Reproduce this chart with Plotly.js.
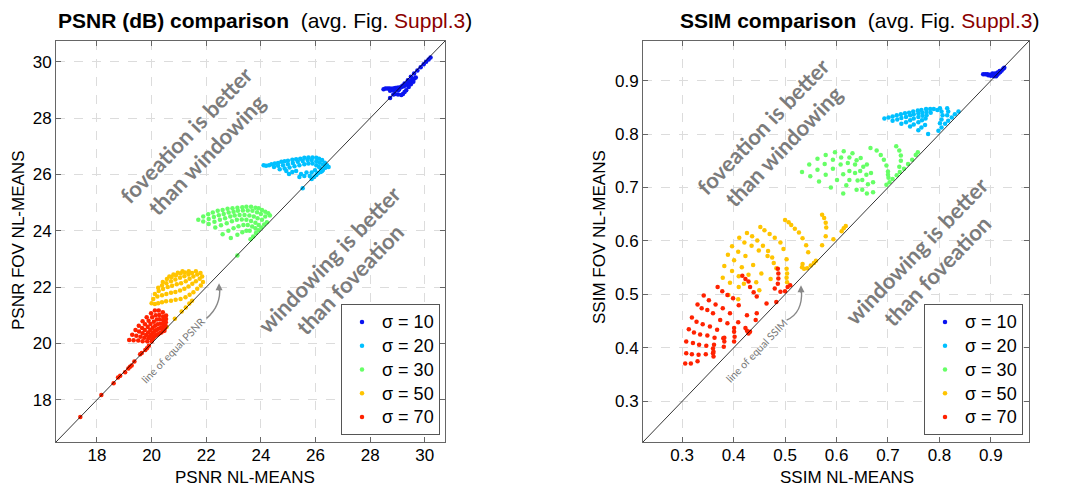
<!DOCTYPE html>
<html><head><meta charset="utf-8">
<script src="https://cdn.plot.ly/plotly-3.0.1.min.js"></script>
<style>html,body{margin:0;padding:0;background:#fff}</style>
</head><body>
<div id="chart" style="width:1083px;height:488px"></div>
<script>
// ---------- data ----------
const sigmaLabels = ['σ = 10', 'σ = 20', 'σ = 30', 'σ = 50', 'σ = 70'];
const sigmaColors = ['#0a14f0', '#00c0ff', '#66ff66', '#ffc400', '#ff2200'];
const psnrRange = [16.5, 30.74];
const ssimRange = [0.224, 0.974];
const psnrTicks = [18, 20, 22, 24, 26, 28, 30];
const ssimTicks = [0.3, 0.4, 0.5, 0.6, 0.7, 0.8, 0.9];

// PSNR (x: NL-means, y: FOV NL-means)
const psnr10 = [[28.49,29.03],[28.56,29.05],[28.64,29.05],[28.71,29.05],[28.78,29.04],[28.85,29.05],[28.92,29.07],[28.99,29.08],[29.06,29.09],[29.13,29.10],[29.20,29.12],[29.27,29.15],[29.34,29.20],[29.41,29.25],[29.48,29.31],[29.55,29.37],[29.62,29.41],[29.67,29.44],[28.73,28.97],[28.87,28.98],[29.02,28.99],[28.91,28.86],[29.02,28.84],[29.14,28.82],[29.20,28.86],[29.26,28.93],[29.32,28.99],[29.41,29.11],[29.49,29.20],[29.58,29.29],[28.73,28.72],[28.85,28.84],[29.06,29.02],[29.18,29.15],[29.26,29.23],[29.38,29.35],[29.49,29.47],[29.61,29.59],[29.73,29.69],[29.85,29.81],[29.96,29.91],[30.05,30.00],[30.14,30.08],[30.21,30.15]];
const psnr20 = [[24.10,26.33],[24.19,26.31],[24.30,26.33],[24.39,26.36],[24.51,26.39],[24.63,26.41],[24.75,26.45],[24.87,26.47],[24.99,26.49],[25.15,26.52],[25.29,26.54],[25.44,26.56],[25.59,26.59],[25.74,26.60],[25.89,26.60],[26.03,26.59],[26.13,26.56],[26.24,26.51],[26.34,26.42],[26.42,26.33],[26.48,26.27],
[24.48,26.27],[24.63,26.31],[24.81,26.33],[24.99,26.36],[25.17,26.41],[25.35,26.45],[25.53,26.48],[25.71,26.51],[25.86,26.51],[26.03,26.47],[26.15,26.42],[26.27,26.35],[26.36,26.27],
[24.69,26.19],[24.87,26.21],[25.05,26.25],[25.23,26.29],[25.41,26.33],[25.59,26.36],[25.74,26.39],[25.89,26.39],[26.03,26.33],[26.13,26.27],
[24.93,26.12],[25.15,26.09],[25.03,26.02],[25.29,26.12],[25.47,26.02],[25.41,25.91],[25.59,25.95],[25.67,26.07],[25.79,25.95],[25.86,26.07],[25.98,26.15],[26.07,26.04],[26.19,26.21],[26.24,26.12],
[25.86,25.84],[25.95,25.91],[26.03,25.98],[26.10,26.05],[26.19,26.09],[26.27,26.16],[26.36,26.24],[25.53,25.51]];
const psnr30 = [[21.71,24.39],[21.89,24.51],[22.07,24.59],[22.24,24.65],[22.42,24.71],[22.60,24.74],[22.78,24.78],[22.96,24.80],[23.14,24.82],[23.32,24.84],[23.47,24.85],[23.64,24.85],[23.80,24.82],[23.92,24.80],[24.04,24.74],[24.16,24.68],[24.27,24.62],[24.33,24.54],
[21.89,24.33],[22.09,24.42],[22.28,24.49],[22.46,24.55],[22.64,24.60],[22.82,24.65],[23.00,24.68],[23.16,24.71],[23.34,24.72],[23.52,24.72],[23.69,24.71],[23.86,24.66],[24.00,24.60],[24.16,24.51],
[22.09,24.24],[22.30,24.32],[22.50,24.39],[22.69,24.45],[22.88,24.51],[23.04,24.54],[23.22,24.56],[23.40,24.56],[23.58,24.54],[23.74,24.51],[23.88,24.45],[24.04,24.39],
[22.33,24.12],[22.54,24.20],[22.75,24.27],[22.94,24.34],[23.12,24.39],[23.30,24.40],[23.47,24.39],[23.64,24.35],[23.80,24.29],[23.92,24.21],
[22.60,23.88],[22.81,24.00],[23.00,24.09],[23.18,24.16],[23.36,24.21],[23.52,24.21],[23.68,24.15],[23.80,24.09],
[22.90,23.74],[23.14,23.86],[23.32,23.95],[23.47,24.00],[23.59,24.00],
[23.62,23.70],[23.72,23.80],[23.82,23.92],[23.92,24.02],[24.02,24.12],[24.12,24.22],[24.22,24.30],[23.14,23.12]];
const psnr50 = [[20.00,21.43],[20.12,21.40],[20.24,21.43],[20.38,21.46],[20.53,21.50],[20.71,21.52],[20.88,21.55],[21.06,21.58],[21.24,21.64],[21.39,21.73],[21.53,21.82],[21.67,21.94],[21.80,22.06],[21.88,22.18],
[20.06,21.58],[20.21,21.67],[20.38,21.71],[20.54,21.76],[20.71,21.80],[20.87,21.83],[21.04,21.88],[21.20,21.94],[21.35,22.02],[21.49,22.12],[21.62,22.21],[21.76,22.30],[21.85,22.38],
[20.12,21.76],[20.26,21.86],[20.42,21.93],[20.59,22.00],[20.75,22.05],[20.92,22.10],[21.08,22.14],[21.25,22.21],[21.39,22.30],[21.53,22.38],[21.67,22.45],[21.79,22.50],
[20.24,21.98],[20.38,22.06],[20.54,22.14],[20.71,22.21],[20.87,22.27],[21.04,22.33],[21.20,22.39],[21.35,22.45],[21.48,22.50],[21.62,22.56],
[20.41,22.18],[20.56,22.29],[20.73,22.36],[20.89,22.42],[21.06,22.48],[21.22,22.52],[21.36,22.56],
[20.65,22.38],[20.80,22.45],[20.96,22.51],[21.13,22.56],
[20.55,20.58],[20.85,20.88],[21.10,21.13],[21.25,21.28],[21.38,21.42],[21.48,21.52]];
const psnr70 = [[19.18,20.12],[19.34,20.11],[19.51,20.10],[19.67,20.08],[19.84,20.08],[20.00,20.07],
[19.29,20.31],[19.44,20.27],[19.59,20.24],[19.73,20.20],[19.88,20.18],[20.02,20.14],
[19.41,20.48],[19.54,20.42],[19.67,20.36],[19.80,20.30],[19.93,20.25],[20.06,20.19],
[19.53,20.63],[19.65,20.55],[19.75,20.48],[19.87,20.39],[19.98,20.32],[20.09,20.24],
[19.67,20.79],[19.76,20.68],[19.86,20.58],[19.95,20.48],[20.05,20.38],[20.14,20.27],
[19.82,20.93],[19.89,20.81],[19.96,20.69],[20.04,20.56],[20.11,20.44],[20.19,20.31],
[19.98,21.07],[20.02,20.93],[20.08,20.77],[20.13,20.63],[20.18,20.48],[20.24,20.33],
[20.12,21.17],[20.15,21.00],[20.19,20.85],[20.22,20.68],[20.26,20.52],[20.29,20.36],
[20.26,21.17],[20.28,21.01],[20.29,20.86],[20.32,20.70],[20.33,20.55],[20.35,20.39],
[20.41,21.11],[20.42,20.96],[20.42,20.83],[20.41,20.69],[20.41,20.56],[20.41,20.43],
[20.53,20.99],[20.53,20.87],[20.52,20.75],[20.51,20.63],[20.49,20.55],[20.47,20.45],
[17.39,17.39],[18.16,18.17],[18.61,18.59],[18.77,18.79],[18.85,18.85],[19.03,18.98],[19.15,19.11],[19.21,19.17],[19.27,19.22],[19.37,19.36],[19.58,19.62],[19.64,19.66],[19.77,19.77],[19.83,19.83],[19.90,19.92]];

// SSIM (x: NL-means, y: FOV NL-means)
const ssim10 = [[0.885,0.912],[0.889,0.912],[0.893,0.912],[0.897,0.911],[0.901,0.911],[0.905,0.911],[0.909,0.910],[0.912,0.911],[0.915,0.913],[0.918,0.916],[0.921,0.919],[0.924,0.922],[0.926,0.924],[0.906,0.908],[0.910,0.908],[0.900,0.909],[0.895,0.910],[0.913,0.915],[0.917,0.918],[0.903,0.913],[0.908,0.913]];
const ssim20 = [[0.693,0.829],[0.701,0.831],[0.709,0.833],[0.717,0.835],[0.725,0.837],[0.733,0.839],[0.741,0.840],[0.749,0.842],[0.758,0.844],[0.765,0.845],[0.774,0.847],[0.782,0.847],[0.789,0.847],[0.796,0.845],
[0.709,0.825],[0.718,0.827],[0.726,0.830],[0.735,0.832],[0.743,0.835],[0.750,0.837],[0.759,0.839],[0.767,0.840],[0.775,0.841],[0.783,0.840],
[0.726,0.819],[0.735,0.822],[0.743,0.826],[0.750,0.829],[0.759,0.832],[0.767,0.834],[0.775,0.835],
[0.743,0.814],[0.750,0.818],[0.759,0.822],[0.766,0.826],[0.773,0.829],
[0.759,0.807],[0.765,0.812],[0.772,0.817],[0.778,0.800],
[0.801,0.848],[0.804,0.842],[0.806,0.835],[0.804,0.827],[0.801,0.820],[0.815,0.848],[0.817,0.842],[0.815,0.835],
[0.798,0.806],[0.804,0.812],[0.811,0.819],[0.817,0.825],[0.824,0.831],[0.830,0.837],[0.837,0.842]];
const ssim30 = [[0.533,0.729],[0.547,0.743],[0.563,0.754],[0.579,0.761],[0.597,0.766],[0.614,0.768],[0.631,0.764],[0.647,0.755],[0.659,0.743],[0.667,0.727],[0.671,0.710],[0.671,0.691],
[0.549,0.721],[0.563,0.733],[0.577,0.744],[0.593,0.752],[0.609,0.756],[0.625,0.756],[0.639,0.751],[0.652,0.739],[0.658,0.724],[0.661,0.706],[0.659,0.689],
[0.566,0.711],[0.579,0.724],[0.593,0.735],[0.608,0.743],[0.622,0.746],[0.636,0.743],[0.646,0.731],[0.650,0.714],[0.650,0.696],
[0.589,0.700],[0.601,0.714],[0.613,0.725],[0.625,0.731],[0.636,0.727],[0.641,0.713],[0.639,0.696],
[0.613,0.689],[0.619,0.704],[0.625,0.714],
[0.666,0.774],[0.678,0.769],[0.686,0.761],[0.692,0.752],[0.697,0.741],[0.700,0.730],[0.701,0.718],
[0.716,0.777],[0.722,0.769],[0.725,0.760],[0.725,0.750],[0.722,0.739],
[0.703,0.710],[0.709,0.716],[0.717,0.723],[0.723,0.729],[0.731,0.735],[0.739,0.744],[0.747,0.752],[0.754,0.761],[0.758,0.766],[0.700,0.724],[0.697,0.705]];
const ssim50 = [[0.379,0.531],[0.393,0.522],[0.410,0.514],
[0.382,0.553],[0.397,0.544],[0.410,0.534],[0.420,0.520],
[0.389,0.574],[0.401,0.564],[0.416,0.551],[0.429,0.537],[0.444,0.523],[0.450,0.508],
[0.397,0.590],[0.409,0.580],[0.423,0.572],[0.438,0.555],[0.454,0.539],[0.472,0.529],
[0.411,0.606],[0.421,0.597],[0.435,0.591],[0.449,0.582],[0.466,0.572],[0.478,0.559],
[0.426,0.615],[0.436,0.609],[0.446,0.601],[0.457,0.591],[0.467,0.581],[0.475,0.569],[0.483,0.549],
[0.452,0.626],[0.460,0.620],[0.470,0.613],[0.480,0.606],[0.491,0.597],[0.497,0.585],[0.503,0.566],
[0.500,0.639],[0.507,0.635],[0.512,0.630],[0.519,0.623],[0.527,0.616],[0.534,0.605],[0.541,0.592],[0.545,0.579],
[0.572,0.649],[0.576,0.643],[0.579,0.634],[0.580,0.625],[0.579,0.609],[0.572,0.592],
[0.534,0.557],[0.533,0.551],[0.537,0.548],[0.543,0.549],[0.550,0.554],[0.556,0.559],[0.560,0.563],
[0.504,0.539],[0.503,0.531],[0.504,0.523],[0.503,0.548],
[0.610,0.618],[0.614,0.624],[0.618,0.628],[0.594,0.603],[0.390,0.499],[0.409,0.491]];
const ssim70 = [[0.306,0.371],[0.317,0.371],[0.330,0.375],
[0.308,0.390],[0.319,0.388],[0.332,0.387],[0.346,0.388],[0.360,0.390],
[0.308,0.412],[0.321,0.409],[0.333,0.406],[0.347,0.404],[0.362,0.406],
[0.313,0.435],[0.323,0.429],[0.335,0.425],[0.349,0.423],[0.363,0.419],[0.380,0.418],
[0.319,0.457],[0.328,0.449],[0.340,0.444],[0.354,0.440],[0.368,0.434],
[0.330,0.481],[0.338,0.474],[0.349,0.471],[0.360,0.465],[0.374,0.452],[0.388,0.446],[0.401,0.437],
[0.342,0.498],[0.352,0.489],[0.365,0.481],[0.379,0.474],[0.393,0.465],[0.409,0.448],[0.423,0.437],
[0.369,0.514],[0.378,0.506],[0.388,0.499],[0.399,0.493],[0.410,0.480],[0.426,0.461],
[0.417,0.535],[0.423,0.529],[0.429,0.524],[0.432,0.514],[0.439,0.504],[0.445,0.496],
[0.401,0.430],[0.402,0.421],[0.401,0.412],[0.382,0.419],[0.382,0.412],[0.381,0.402],[0.360,0.399],[0.361,0.393],[0.361,0.384],
[0.486,0.548],[0.487,0.539],[0.487,0.530],[0.486,0.520],[0.480,0.511],[0.491,0.505],[0.500,0.506],[0.505,0.514],[0.510,0.517],
[0.464,0.483],[0.483,0.486],[0.445,0.465],[0.443,0.452],[0.426,0.432],[0.429,0.427],[0.432,0.430]];

const psnrSeries = [psnr10, psnr20, psnr30, psnr50, psnr70];
const ssimSeries = [ssim10, ssim20, ssim30, ssim50, ssim70];

// ---------- traces ----------
const legName = s => '<span style="font-size:18px">' + s + '</span>';
const traces = [];
psnrSeries.forEach((pts, i) => traces.push({
  type: 'scatter', mode: 'markers', name: legName(sigmaLabels[i]),
  x: pts.map(p => p[0]), y: pts.map(p => p[1]), xaxis: 'x', yaxis: 'y',
  marker: {color: sigmaColors[i], size: 4.5}, legend: 'legend', hoverinfo: 'x+y'
}));
ssimSeries.forEach((pts, i) => traces.push({
  type: 'scatter', mode: 'markers', name: legName(sigmaLabels[i]),
  x: pts.map(p => p[0]), y: pts.map(p => p[1]), xaxis: 'x2', yaxis: 'y2',
  marker: {color: sigmaColors[i], size: 4.5}, legend: 'legend2', hoverinfo: 'x+y'
}));

// ---------- layout ----------
const W = 1083, H = 488;
const tickFont = {family: 'Liberation Sans, Arial, sans-serif', size: 17, color: '#000'};
function axis(range, ticks, dom, anchor, fmt, isX) {
  const a = {
    domain: dom, range: range, anchor: anchor, tickvals: ticks, tickformat: fmt,
    showline: true, linecolor: '#666', linewidth: 1, mirror: 'ticks',
    ticks: 'inside', ticklen: 5, tickcolor: '#666',
    showgrid: true, gridcolor: '#dcdcdc', griddash: 'dash', gridwidth: 1,
    zeroline: false, tickfont: tickFont, automargin: false, fixedrange: true
  };
  if (isX) a.ticklabelstandoff = -2;
  return a;
}
const yDom = [1 - 442 / H, 1 - 41 / H];
const legFont = {family: 'Liberation Sans, Arial, sans-serif', size: 16, color: '#000'};
const layout = {
  width: W, height: H, margin: {l: 0, r: 0, t: 0, b: 0},
  paper_bgcolor: '#fff', plot_bgcolor: '#fff', showlegend: true,
  xaxis: axis(psnrRange, psnrTicks, [56 / W, 445 / W], 'y', 'd', true),
  yaxis: axis(psnrRange, psnrTicks, yDom, 'x', 'd', false),
  xaxis2: axis(ssimRange, ssimTicks, [643 / W, 1029 / W], 'y2', '.1f', true),
  yaxis2: axis(ssimRange, ssimTicks, yDom, 'x2', '.1f', false),
  legend: {x: 440 / W, y: 1 - 435 / H, xanchor: 'right', yanchor: 'bottom', bgcolor: '#fff',
    bordercolor: '#555', borderwidth: 1, font: legFont},
  legend2: {x: 1023 / W, y: 1 - 435 / H, xanchor: 'right', yanchor: 'bottom', bgcolor: '#fff',
    bordercolor: '#555', borderwidth: 1, font: legFont},
  shapes: [
    {type: 'line', xref: 'x', yref: 'y', x0: psnrRange[0], y0: psnrRange[0], x1: psnrRange[1], y1: psnrRange[1],
      line: {color: '#000', width: 0.8}, layer: 'above'},
    {type: 'line', xref: 'x2', yref: 'y2', x0: ssimRange[0], y0: ssimRange[0], x1: ssimRange[1], y1: ssimRange[1],
      line: {color: '#000', width: 0.8}, layer: 'above'},
    {type: 'path', xref: 'x', yref: 'y', path: 'M 22.01,20.89 Q 22.55,21.33 22.49,22.02',
      line: {color: '#888', width: 1.4}},
    {type: 'path', xref: 'x2', yref: 'y2', path: 'M 0.503,0.452 Q 0.5345,0.465 0.532,0.508',
      line: {color: '#888', width: 1.4}}
  ],
  annotations: []
};

const titleFont = {family: 'Liberation Sans, Arial, sans-serif', size: 21, color: '#000'};
const labFont = {family: 'Liberation Sans, Arial, sans-serif', size: 17, color: '#000'};
const grayFont = {family: 'Lato, Open Sans, sans-serif', size: 22, color: '#7c7c7c', weight: 'bold'};
const smallFont = {family: 'Lato, Open Sans, sans-serif', size: 10.5, color: '#777'};
const A = layout.annotations;
function note(o) { A.push(Object.assign({showarrow: false, xanchor: 'center', yanchor: 'middle'}, o)); }
note({xref: 'paper', yref: 'paper', x: 265 / W, y: 1 - 20 / H, font: titleFont,
  text: '<b>PSNR (dB) comparison</b>  (avg. Fig. <span style="color:#8b0000">Suppl.3</span>)'});
note({xref: 'paper', yref: 'paper', x: 859 / W, y: 1 - 20 / H, font: titleFont,
  text: '<b>SSIM comparison</b>  (avg. Fig. <span style="color:#8b0000">Suppl.3</span>)'});
note({xref: 'paper', yref: 'paper', x: 245 / W, y: 1 - 477 / H, font: labFont, text: 'PSNR NL-MEANS'});
note({xref: 'paper', yref: 'paper', x: 847 / W, y: 1 - 477 / H, font: labFont, text: 'SSIM NL-MEANS'});
note({xref: 'paper', yref: 'paper', x: 18 / W, y: 1 - 241 / H, font: labFont, textangle: -90, text: 'PSNR FOV NL-MEANS'});
note({xref: 'paper', yref: 'paper', x: 600 / W, y: 1 - 237 / H, font: labFont, textangle: -90, text: 'SSIM FOV NL-MEANS'});
note({xref: 'x', yref: 'y', x: 21.63, y: 27.05, font: grayFont, textangle: -46, text: 'foveation is better<br>than windowing'});
note({xref: 'x', yref: 'y', x: 26.9, y: 22.63, font: grayFont, textangle: -46, text: 'windowing is better<br>than foveation'});
note({xref: 'x2', yref: 'y2', x: 0.478, y: 0.796, font: grayFont, textangle: -46, text: 'foveation is better<br>than windowing'});
note({xref: 'x2', yref: 'y2', x: 0.775, y: 0.563, font: grayFont, textangle: -46, text: 'windowing is better<br>than foveation'});
note({xref: 'x', yref: 'y', x: 20.80, y: 19.77, font: smallFont, textangle: -46, text: 'line of equal PSNR'});
note({xref: 'x2', yref: 'y2', x: 0.444, y: 0.395, font: smallFont, textangle: -46, text: 'line of equal SSIM'});
A.push({xref: 'x', yref: 'y', x: 22.47, y: 22.14, ax: 0, ay: 9, showarrow: true, text: '', arrowhead: 2, arrowsize: 1, arrowwidth: 1.4, arrowcolor: '#888'});
A.push({xref: 'x2', yref: 'y2', x: 0.531, y: 0.517, ax: 0, ay: 9, showarrow: true, text: '', arrowhead: 2, arrowsize: 1, arrowwidth: 1.4, arrowcolor: '#888'});

Plotly.newPlot('chart', traces, layout, {displayModeBar: false, staticPlot: true});
</script>
</body></html>
